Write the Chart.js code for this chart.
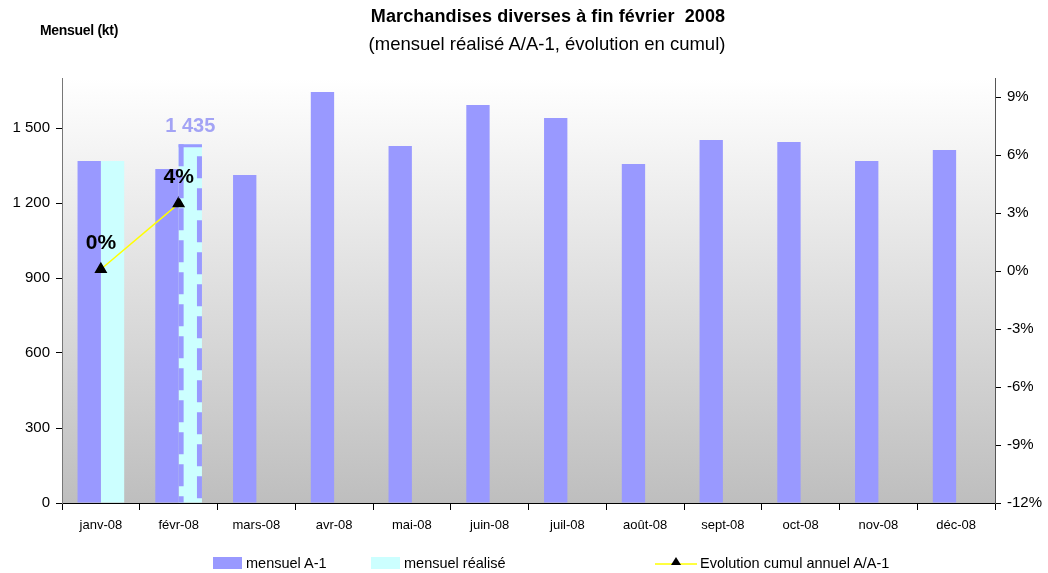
<!DOCTYPE html>
<html>
<head>
<meta charset="utf-8">
<script src="https://cdn.jsdelivr.net/npm/chart.js@4.4.1/dist/chart.umd.min.js"></script>
<style>
  body { margin: 0; background: #fff; font-family: "Liberation Sans", Arial, sans-serif; }
  #wrap { position: relative; width: 1048px; height: 573px; }
  .txt { position: absolute; white-space: nowrap; color: #000; }
  .leg { position: absolute; top: 555px; height: 16px; font-size: 14.5px; display: flex; align-items: center; }
  .box { display: inline-block; width: 29px; height: 12px; margin-right: 4px; }
</style>
</head>
<body>
<div id="wrap">
  <canvas id="c" width="1048" height="573"></canvas>
  <div class="txt" style="left:40px;top:22px;font-size:14px;font-weight:bold;letter-spacing:-0.3px;">Mensuel (kt)</div>
  <div class="txt" style="left:0;width:1096px;text-align:center;top:6px;font-size:18px;font-weight:bold;letter-spacing:0.1px;">Marchandises diverses à fin février&nbsp; 2008</div>
  <div class="txt" style="left:0;width:1094px;text-align:center;top:33px;font-size:18.5px;">(mensuel réalisé A/A-1, évolution en cumul)</div>
  <div class="leg" style="left:213px;"><span class="box" style="background:#9999ff"></span>mensuel A-1</div>
  <div class="leg" style="left:371px;"><span class="box" style="background:#ccffff"></span>mensuel réalisé</div>
  <div class="leg" style="left:655px;">
    <svg width="42" height="16" style="margin-right:3px;display:block"><line x1="0" y1="9" x2="42" y2="9" stroke="#ffff00" stroke-width="1.5"/><polygon points="21,2 26,10 16,10" fill="#000"/></svg>Evolution cumul annuel A/A-1
  </div>
</div>
<script>
// data
const months = ['janv-08', 'févr-08', 'mars-08', 'avr-08', 'mai-08', 'juin-08', 'juil-08', 'août-08', 'sept-08', 'oct-08', 'nov-08', 'déc-08'];
const mensuelA1 = [1368, 1336, 1312, 1644, 1428, 1592, 1540, 1356, 1452, 1444, 1368, 1412];
const mensuelRealise = [1368, 1435, null, null, null, null, null, null, null, null, null, null];
const evolutionCumul = [0.1, 3.5, null, null, null, null, null, null, null, null, null, null];
const evolutionLabels = ['0%', '4%'];
const lastRealiseLabel = '1 435';
const leftTicks = [0, 300, 600, 900, 1200, 1500];
const rightTicks = [-12, -9, -6, -3, 0, 3, 6, 9];

// gradient behind the plot area
const bgPlugin = {
  id: 'bg',
  beforeDraw(chart) {
    const { ctx, chartArea: a } = chart;
    const g = ctx.createLinearGradient(0, a.top, 0, a.bottom);
    g.addColorStop(0, '#ffffff');
    g.addColorStop(1, '#bebebe');
    ctx.save();
    ctx.fillStyle = g;
    ctx.fillRect(a.left, a.top, a.right - a.left, a.bottom - a.top);
    ctx.restore();
  }
};

// labels on the points and on the last realised bar + dashed edges of that bar
const labelPlugin = {
  id: 'labels',
  afterDatasetsDraw(chart) {
    const ctx = chart.ctx;
    ctx.save();
    const bars = chart.getDatasetMeta(1).data;
    const b = bars[1];
    const half = b.width / 2;
    ctx.strokeStyle = '#9999ff';
    ctx.lineWidth = 5;
    ctx.setLineDash([22, 10]);
    ctx.beginPath();
    ctx.moveTo(b.x - half + 2.5, b.y);
    ctx.lineTo(b.x - half + 2.5, b.base);
    ctx.moveTo(b.x + half - 2.5, b.y + 12);
    ctx.lineTo(b.x + half - 2.5, b.base);
    ctx.stroke();
    ctx.setLineDash([]);
    ctx.fillStyle = '#9999ff';
    ctx.fillRect(b.x - half, b.y, b.width, 3);

    ctx.fillStyle = '#a3a3f5';
    ctx.font = 'bold 20px "Liberation Sans", Arial';
    ctx.textAlign = 'center';
    ctx.textBaseline = 'bottom';
    ctx.fillText(lastRealiseLabel, b.x, b.y - 8);

    ctx.fillStyle = '#000';
    ctx.font = 'bold 21px "Liberation Sans", Arial';
    const pts = chart.getDatasetMeta(2).data;
    evolutionLabels.forEach((t, i) => {
      const p = pts[i];
      ctx.fillText(t, p.x, p.y - 16);
    });
    ctx.restore();
  }
};

new Chart(document.getElementById('c'), {
  type: 'bar',
  data: {
    labels: months,
    datasets: [
      {
        label: 'mensuel A-1',
        data: mensuelA1,
        backgroundColor: '#9999ff',
        yAxisID: 'y',
        order: 2
      },
      {
        label: 'mensuel réalisé',
        data: mensuelRealise,
        backgroundColor: '#ccffff',
        yAxisID: 'y',
        order: 2
      },
      {
        type: 'line',
        label: 'Evolution cumul annuel A/A-1',
        data: evolutionCumul,
        borderColor: '#ffff00',
        borderWidth: 1.5,
        pointStyle: 'triangle',
        pointRadius: 6,
        pointBackgroundColor: '#000',
        pointBorderColor: '#000',
        yAxisID: 'y2',
        spanGaps: false,
        order: 1
      }
    ]
  },
  options: {
    responsive: false,
    animation: false,
    layout: { padding: { top: 78, left: 0, right: 0, bottom: 0 } },
    datasets: { bar: { categoryPercentage: 0.6, barPercentage: 1.0 } },
    plugins: { legend: { display: false }, tooltip: { enabled: false } },
    scales: {
      x: {
        grid: { display: true, drawOnChartArea: false, color: '#000', tickLength: 7 },
        border: { color: '#000' },
        ticks: { color: '#000', font: { size: 13, family: '"Liberation Sans", Arial' }, padding: 8, maxRotation: 0 },
        afterFit(s) { s.height = 70; }
      },
      y: {
        position: 'left',
        min: 0,
        max: 1700,
        grid: { display: true, drawOnChartArea: false, color: '#000', tickLength: 6 },
        border: { color: '#777' },
        afterBuildTicks(s) { s.ticks = leftTicks.map(v => ({ value: v })); },
        ticks: {
          color: '#000',
          font: { size: 15, family: '"Liberation Sans", Arial' },
          padding: 6,
          callback: v => v >= 1000 ? String(v).replace(/(\d)(\d{3})$/, '$1 $2') : v
        },
        afterFit(s) { s.width = 62; }
      },
      y2: {
        position: 'right',
        min: -12,
        max: 10,
        grid: { display: true, drawOnChartArea: false, color: '#000', tickLength: 6 },
        border: { color: '#555' },
        afterBuildTicks(s) { s.ticks = rightTicks.map(v => ({ value: v })); },
        ticks: {
          color: '#000',
          font: { size: 15, family: '"Liberation Sans", Arial' },
          padding: 6,
          callback: v => v + '%'
        },
        afterFit(s) { s.width = 53; }
      }
    }
  },
  plugins: [bgPlugin, labelPlugin]
});
</script>
</body>
</html>
